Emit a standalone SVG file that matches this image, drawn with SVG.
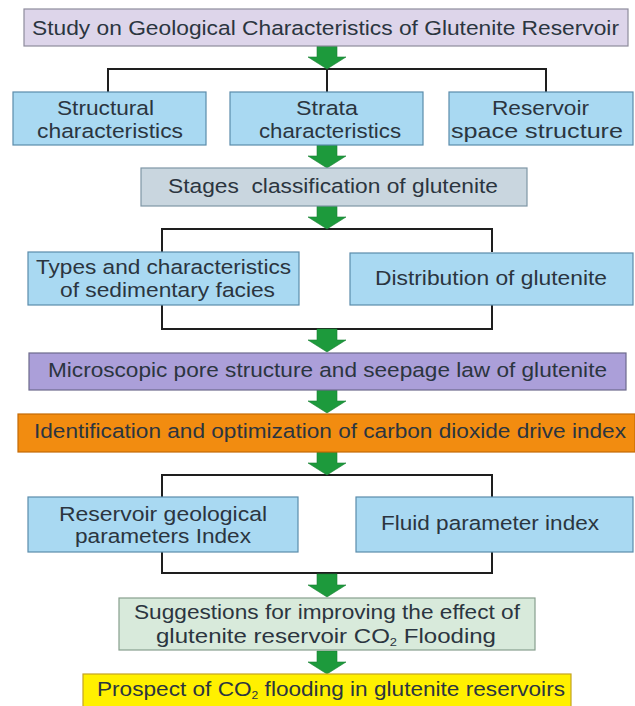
<svg xmlns="http://www.w3.org/2000/svg" xmlns:xlink="http://www.w3.org/1999/xlink" width="635" height="706" viewBox="0 0 635 706">
<defs>
<style>
.t{font-family:"Liberation Sans",Arial,sans-serif;font-size:20.5px;fill:#2b3540;text-anchor:middle}
.sub{font-size:11px}
.ln{fill:none;stroke:#1e1e1e;stroke-width:2}
.ar{fill:#1d9a3c;stroke:#178032;stroke-width:0.6}
.top{fill:#ddd5ea;stroke:#8e8c9c;stroke-width:1.2}
.blue{fill:#a9d9f2;stroke:#5b8cab;stroke-width:1.2}
.stage{fill:#c9d6df;stroke:#7f96a6;stroke-width:1.2}
.micro{fill:#ab9fd9;stroke:#6d6a8c;stroke-width:1.2}
.ident{fill:#f28c10;stroke:#c46a05;stroke-width:1.2}
.sugg{fill:#d8eadb;stroke:#889f8e;stroke-width:1.2}
.prosp{fill:#fff000;stroke:#c4a322;stroke-width:1.2}
</style>
<path id="arrow" d="M-10,0 H10 V11 H19 L0,23 L-19,11 H-10 Z"/>
</defs>
<rect width="635" height="706" fill="#ffffff"/>

<g id="connectors">
<path class="ln" d="M108,92 V69 H546 V92 M327,69 V92"/>
<path class="ln" d="M162,252 V229 H492 V252"/>
<path class="ln" d="M162,305 V329 H492 V305"/>
<path class="ln" d="M162,497 V475 H492 V497"/>
<path class="ln" d="M162,552 V573 H492 V552"/>
<use href="#arrow" class="ar" x="327" y="46"/>
<use href="#arrow" class="ar" x="327" y="145"/>
<use href="#arrow" class="ar" x="327" y="206"/>
<use href="#arrow" class="ar" x="327" y="329"/>
<use href="#arrow" class="ar" x="327" y="390"/>
<use href="#arrow" class="ar" x="327" y="452"/>
<use href="#arrow" class="ar" x="327" y="574"/>
<use href="#arrow" class="ar" x="327" y="651"/>
</g>

<g id="study">
<rect class="top" x="24" y="9" width="604" height="37"/>
<text class="t" x="325.5" y="35" textLength="587" lengthAdjust="spacingAndGlyphs">Study on Geological Characteristics of Glutenite Reservoir</text>
</g>

<g id="structural">
<rect class="blue" x="13" y="92" width="193" height="53"/>
<text class="t" x="105.5" y="115" textLength="97" lengthAdjust="spacingAndGlyphs">Structural</text>
<text class="t" x="110" y="138" textLength="146" lengthAdjust="spacingAndGlyphs">characteristics</text>
</g>

<g id="strata">
<rect class="blue" x="230" y="92" width="193" height="53"/>
<text class="t" x="327" y="115" textLength="62" lengthAdjust="spacingAndGlyphs">Strata</text>
<text class="t" x="330" y="138" textLength="142" lengthAdjust="spacingAndGlyphs">characteristics</text>
</g>

<g id="reservoir-space">
<rect class="blue" x="449" y="92" width="184" height="53"/>
<text class="t" x="540.5" y="115" textLength="97" lengthAdjust="spacingAndGlyphs">Reservoir</text>
<text class="t" x="537" y="138" textLength="172" lengthAdjust="spacingAndGlyphs">space structure</text>
</g>

<g id="stages">
<rect class="stage" x="141" y="168" width="386" height="38"/>
<text class="t" x="333" y="193" textLength="330" lengthAdjust="spacingAndGlyphs" style="white-space:pre">Stages  classification of glutenite</text>
</g>

<g id="types">
<rect class="blue" x="28" y="252" width="271" height="53"/>
<text class="t" x="163.5" y="274" textLength="255" lengthAdjust="spacingAndGlyphs">Types and characteristics</text>
<text class="t" x="167.5" y="297" textLength="215" lengthAdjust="spacingAndGlyphs">of sedimentary facies</text>
</g>

<g id="distribution">
<rect class="blue" x="350" y="253" width="283" height="52"/>
<text class="t" x="491" y="285" textLength="232" lengthAdjust="spacingAndGlyphs">Distribution of glutenite</text>
</g>

<g id="microscopic">
<rect class="micro" x="29" y="353" width="597" height="37"/>
<text class="t" x="327.5" y="377" textLength="559" lengthAdjust="spacingAndGlyphs">Microscopic pore structure and seepage law of glutenite</text>
</g>

<g id="identification">
<rect class="ident" x="18" y="414" width="617" height="38"/>
<text class="t" x="330" y="438" textLength="592" lengthAdjust="spacingAndGlyphs">Identification and optimization of carbon dioxide drive index</text>
</g>

<g id="reservoir-geological">
<rect class="blue" x="28" y="497" width="270" height="55"/>
<text class="t" x="163" y="521" textLength="208" lengthAdjust="spacingAndGlyphs">Reservoir geological</text>
<text class="t" x="163" y="543" textLength="176" lengthAdjust="spacingAndGlyphs">parameters Index</text>
</g>

<g id="fluid">
<rect class="blue" x="356" y="497" width="277" height="55"/>
<text class="t" x="490" y="530" textLength="218" lengthAdjust="spacingAndGlyphs">Fluid parameter index</text>
</g>

<g id="suggestions">
<rect class="sugg" x="119" y="598" width="416" height="52"/>
<text class="t" x="327" y="619" textLength="386" lengthAdjust="spacingAndGlyphs">Suggestions for improving the effect of</text>
<text class="t" x="326" y="643" textLength="340" lengthAdjust="spacingAndGlyphs">glutenite reservoir CO<tspan class="sub" dy="3">2</tspan><tspan dy="-3"> Flooding</tspan></text>
</g>

<g id="prospect">
<rect class="prosp" x="83" y="674" width="488" height="40"/>
<text class="t" x="331" y="696" textLength="468" lengthAdjust="spacingAndGlyphs">Prospect of CO<tspan class="sub" dy="3">2</tspan><tspan dy="-3"> flooding in glutenite reservoirs</tspan></text>
</g>
</svg>
